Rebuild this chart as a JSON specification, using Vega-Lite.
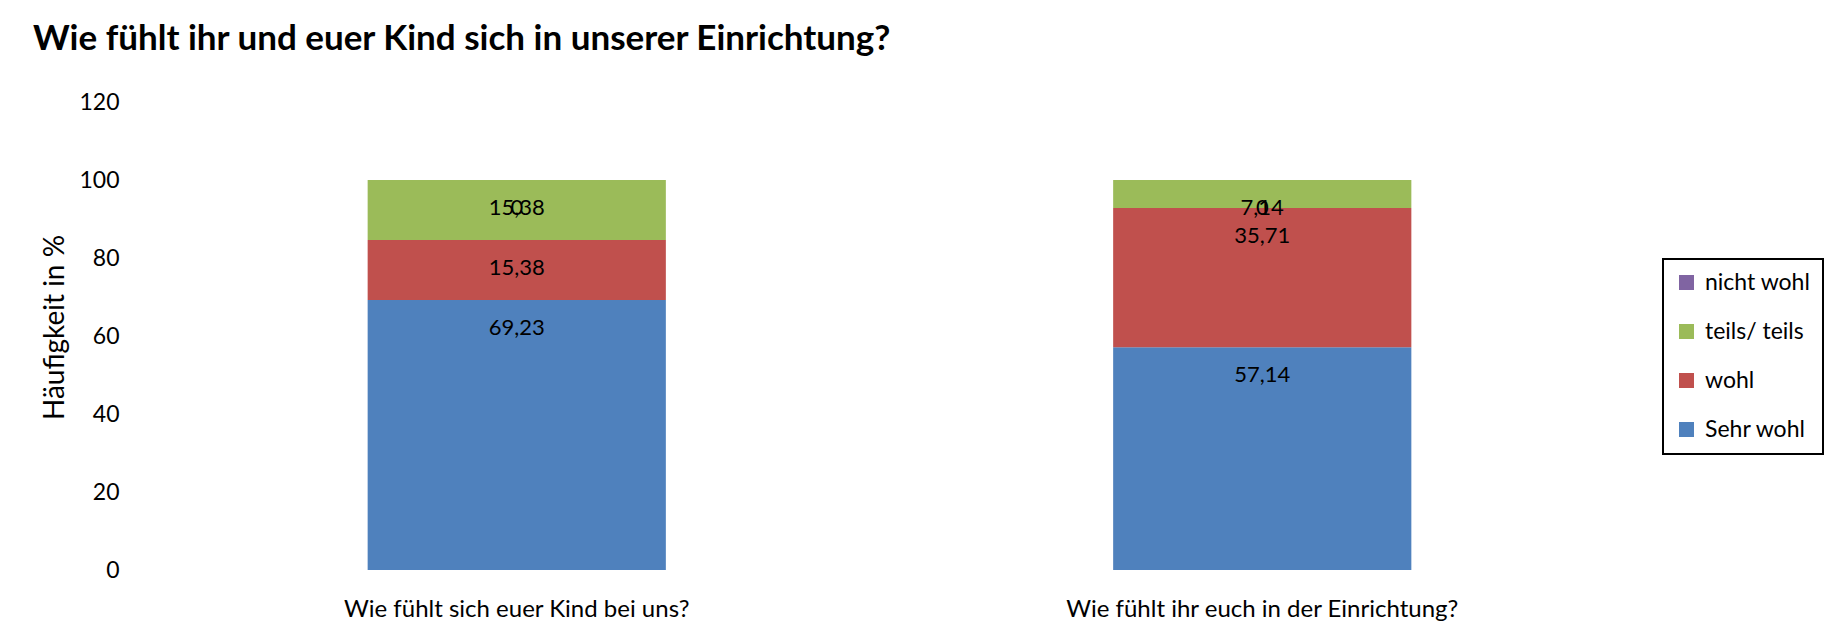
{
  "$schema": "https://vega.github.io/schema/vega-lite/v6.json",
  "width": 1491,
  "height": 468,
  "autosize": {"type": "none"},
  "padding": {"left": 144, "top": 102, "right": 206, "bottom": 65},
  "background": "white",
  "config": {
    "view": {"stroke": null},
    "font": "Lato"
  },
  "title": {
    "text": "Wie fühlt ihr und euer Kind sich in unserer Einrichtung?",
    "anchor": "start",
    "frame": "group",
    "font": "Lato",
    "fontSize": 35,
    "fontWeight": "bold",
    "color": "#000000",
    "dx": -111,
    "offset": 34
  },
  "data": {
    "values": [
      {"frage": "Wie fühlt sich euer Kind bei uns?", "antwort": "Sehr wohl", "idx": 1, "wert": 69.23, "beschriftung": "69,23"},
      {"frage": "Wie fühlt sich euer Kind bei uns?", "antwort": "wohl", "idx": 2, "wert": 15.38, "beschriftung": "15,38"},
      {"frage": "Wie fühlt sich euer Kind bei uns?", "antwort": "teils/ teils", "idx": 3, "wert": 15.38, "beschriftung": "15,38"},
      {"frage": "Wie fühlt sich euer Kind bei uns?", "antwort": "nicht wohl", "idx": 4, "wert": 0, "beschriftung": "0"},
      {"frage": "Wie fühlt ihr euch in der Einrichtung?", "antwort": "Sehr wohl", "idx": 1, "wert": 57.14, "beschriftung": "57,14"},
      {"frage": "Wie fühlt ihr euch in der Einrichtung?", "antwort": "wohl", "idx": 2, "wert": 35.71, "beschriftung": "35,71"},
      {"frage": "Wie fühlt ihr euch in der Einrichtung?", "antwort": "teils/ teils", "idx": 3, "wert": 7.14, "beschriftung": "7,14"},
      {"frage": "Wie fühlt ihr euch in der Einrichtung?", "antwort": "nicht wohl", "idx": 4, "wert": 0, "beschriftung": "0"}
    ]
  },
  "encoding": {
    "x": {
      "field": "frage",
      "type": "nominal",
      "sort": null,
      "scale": {"paddingInner": 0.6, "paddingOuter": 0.3},
      "axis": {
        "title": null,
        "labelAngle": 0,
        "labelLimit": 0,
        "domain": false,
        "ticks": false,
        "labelPadding": 27,
        "labelFontSize": 24,
        "labelColor": "#000000",
        "labelFont": "Lato"
      }
    },
    "y": {
      "field": "wert",
      "type": "quantitative",
      "stack": "zero",
      "scale": {"domain": [0, 120], "nice": false},
      "axis": {
        "title": "Häufigkeit in %",
        "titleFont": "Lato",
        "titleFontWeight": "normal",
        "titleFontSize": 28,
        "titleColor": "#000000",
        "titleX": -89,
        "titleY": 225,
        "titleAlign": "center",
        "titleBaseline": "middle",
        "values": [0, 20, 40, 60, 80, 100, 120],
        "grid": false,
        "domain": false,
        "ticks": false,
        "labelPadding": 25,
        "labelFontSize": 23,
        "labelColor": "#000000",
        "labelFont": "Lato"
      }
    },
    "order": {"field": "idx", "type": "quantitative", "sort": "ascending"}
  },
  "layer": [
    {
      "mark": {"type": "bar"},
      "encoding": {
        "color": {
          "field": "antwort",
          "type": "nominal",
          "scale": {
            "domain": ["nicht wohl", "teils/ teils", "wohl", "Sehr wohl"],
            "range": ["#8064A2", "#9BBB59", "#C0504D", "#4F81BD"]
          },
          "legend": {
            "title": null,
            "orient": "none",
            "legendX": 1519,
            "legendY": 157,
            "symbolType": "square",
            "symbolSize": 225,
            "symbolStrokeWidth": 0,
            "labelFontSize": 23,
            "labelFont": "Lato",
            "labelColor": "#000000",
            "labelOffset": 7,
            "rowPadding": 25,
            "padding": 12,
            "strokeColor": "#000000",
            "fillColor": "white",
            "encode": {"legend": {"update": {"strokeWidth": {"value": 2}}}}
          }
        }
      }
    },
    {
      "mark": {"type": "text", "dy": 28, "baseline": "middle", "align": "center", "fontSize": 22, "font": "Lato", "color": "#000000"},
      "encoding": {
        "detail": {"field": "antwort", "type": "nominal"},
        "text": {"field": "beschriftung", "type": "nominal"}
      }
    }
  ]
}
